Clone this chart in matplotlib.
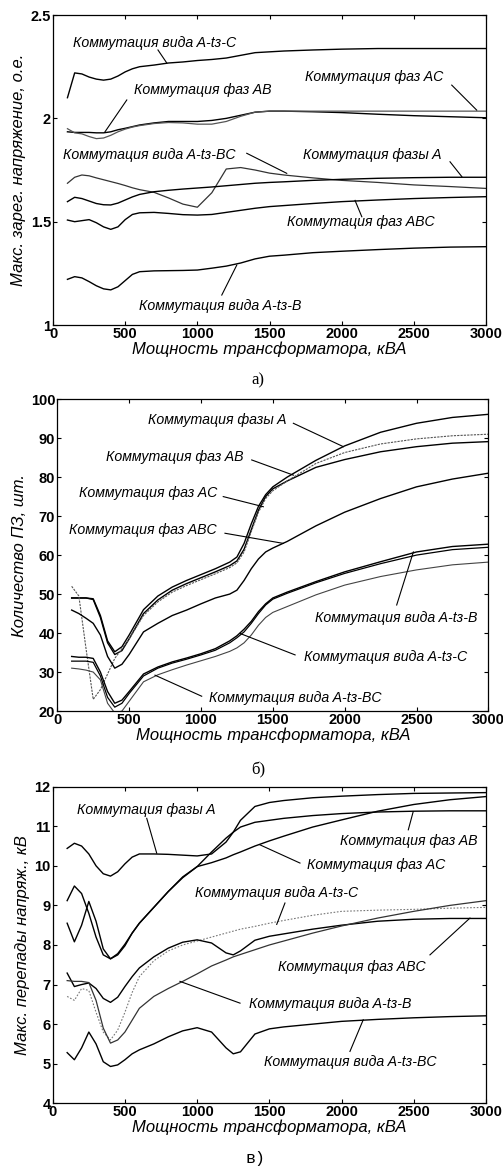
import numpy as np
import matplotlib
matplotlib.use('Agg')
import matplotlib.pyplot as plt

plt.rcParams['font.family'] = ['Liberation Sans', 'DejaVu Sans']

# ---- panel a: max overvoltage, p.u.
xa = [100, 150, 200, 250, 300, 350, 400, 450, 500, 550, 600, 700, 800, 900, 1000,
      1100, 1200, 1300, 1400, 1500, 1600, 1800, 2000, 2250, 2500, 2750, 3000]
a_t3_c = [2.10, 2.22, 2.215, 2.20, 2.19, 2.185, 2.19, 2.205, 2.225, 2.24, 2.25, 2.258, 2.268, 2.273, 2.28,
          2.285, 2.292, 2.305, 2.318, 2.322, 2.326, 2.331, 2.335, 2.338, 2.338, 2.338, 2.338]
a_ab = [1.935, 1.932, 1.932, 1.932, 1.93, 1.93, 1.935, 1.945, 1.952, 1.96, 1.968, 1.978, 1.985, 1.985, 1.985,
        1.99, 2.0, 2.015, 2.03, 2.035, 2.035, 2.032, 2.028, 2.02, 2.013, 2.008, 2.003]
a_ac = [1.95, 1.93, 1.925, 1.912, 1.902, 1.905, 1.918, 1.935, 1.948, 1.958, 1.965, 1.975, 1.98, 1.978, 1.972,
        1.972, 1.985, 2.01, 2.03, 2.035, 2.035, 2.035, 2.035, 2.035, 2.035, 2.035, 2.035]
a_t3_bc = [1.686, 1.715, 1.726, 1.722, 1.712, 1.703, 1.694, 1.685, 1.675, 1.664, 1.655, 1.642, 1.615, 1.585, 1.57,
           1.64, 1.755, 1.762, 1.75, 1.735, 1.726, 1.712, 1.70, 1.69, 1.678, 1.67, 1.661]
a_a = [1.597, 1.618, 1.612, 1.60, 1.588, 1.582, 1.581, 1.59, 1.605, 1.62, 1.632, 1.645, 1.652, 1.658, 1.663,
       1.668, 1.674, 1.68, 1.686, 1.69, 1.693, 1.70, 1.705, 1.71, 1.713, 1.715, 1.715]
a_abc = [1.508, 1.50, 1.505, 1.51, 1.495, 1.475, 1.463, 1.475, 1.51, 1.535, 1.543, 1.545, 1.54, 1.534, 1.532,
         1.535, 1.545, 1.555, 1.565, 1.573, 1.578, 1.588, 1.597, 1.605, 1.612, 1.617, 1.621]
a_t3_b = [1.221, 1.234, 1.228, 1.21, 1.19, 1.175, 1.170, 1.185, 1.215, 1.245, 1.258, 1.262, 1.263, 1.264, 1.266,
          1.275, 1.285, 1.30, 1.32, 1.333, 1.338, 1.35, 1.357, 1.365, 1.372, 1.377, 1.379]

# ---- panel b: number of arresters
xb = [100, 150, 200, 250, 300, 350, 400, 450, 500, 600, 700, 800, 900, 1000, 1100, 1200, 1250,
      1300, 1350, 1400, 1450, 1500, 1600, 1800, 2000, 2250, 2500, 2750, 3000]
b_a = [49, 49, 49, 48.8, 44.5, 38, 35.2, 36.5, 39.5, 46, 49.5, 51.8, 53.5, 55, 56.5, 58.2, 59.5,
       63, 68, 72.5, 75.5, 77.5, 80, 84.3, 88, 91.5, 93.8, 95.3, 96.1]
b_ab = [49, 49, 49, 48.6, 44, 37.5, 34.5, 35.5, 38.5, 45, 48.5, 51, 52.7, 54.2, 55.7, 57.3, 58.5,
        61.5, 66.5, 71.5, 75, 77, 79, 82.5, 84.5, 86.5, 87.8, 88.7, 89.1]
b_ac = [52, 49.5, 36, 23, 25.5, 29.5, 33.5, 36, 38.5, 44.5, 48, 50.5, 52.2, 53.7, 55.2, 56.8, 58,
        60.8, 66, 71, 74.5, 76.5, 79, 83.5, 86.3, 88.5, 89.8, 90.6, 91]
b_abc = [45.9, 45, 43.8, 42.5, 39.5, 34, 31, 32, 34.5, 40.3, 42.5, 44.5, 45.9, 47.5, 49, 50, 51,
         53.5, 56.5, 59, 60.8, 61.8, 63.5, 67.5, 71, 74.5, 77.5, 79.5, 81]
b_t3_c = [34, 33.8, 33.8, 33.5, 30, 25, 22, 22.8, 25, 29.5, 31.3, 32.6, 33.6, 34.7, 36, 38, 39.3,
          41, 43, 45.5, 47.5, 49, 50.5, 53.2, 55.7, 58.3, 60.8, 62.2, 62.8]
b_t3_b = [32.8, 32.8, 32.8, 32.5, 29, 23.5, 21, 22, 24.5, 29, 31, 32.3, 33.3, 34.4, 35.6, 37.5, 38.8,
          40.3, 42.5, 45, 47.2, 48.7, 50.2, 52.9, 55.3, 57.8, 60, 61.4, 62]
b_t3_bc = [31, 30.8, 30.5, 30, 28, 22, 19.5, 20, 22.5, 27.5, 29.3, 30.6, 31.8, 32.9, 34, 35.3, 36.2,
           37.5, 39.5, 42, 44, 45.3, 46.8, 49.8, 52.3, 54.5, 56.2, 57.5, 58.2]

# ---- panel c: max voltage jumps, kV
xc = [100, 150, 200, 250, 300, 350, 400, 450, 500, 550, 600, 700, 800, 900, 1000, 1100, 1200, 1250,
      1300, 1400, 1500, 1600, 1800, 2000, 2250, 2500, 2750, 3000]
c_a = [10.44, 10.57, 10.5, 10.3, 10.0, 9.8, 9.74, 9.85, 10.05, 10.22, 10.3, 10.3, 10.29, 10.27, 10.25, 10.3, 10.6, 10.85,
       11.15, 11.5, 11.6, 11.65, 11.72, 11.76, 11.8, 11.83, 11.84, 11.85]
c_ab = [9.12, 9.49, 9.3, 8.8, 8.2, 7.75, 7.65, 7.75, 7.98, 8.3, 8.55, 8.95, 9.35, 9.7, 9.98, 10.35, 10.7, 10.85,
        10.98, 11.1, 11.15, 11.2, 11.27, 11.32, 11.36, 11.38, 11.39, 11.39]
c_ac = [8.55, 8.08, 8.5, 9.1, 8.6, 7.9, 7.65, 7.78, 8.02, 8.3, 8.55, 8.95, 9.35, 9.72, 9.98, 10.08, 10.2, 10.28,
        10.35, 10.5, 10.63, 10.75, 10.98, 11.16, 11.38, 11.55, 11.67, 11.75]
c_t3_c = [6.7, 6.6, 6.9, 6.85, 6.3, 5.8, 5.6, 5.85, 6.3, 6.8, 7.2, 7.6, 7.85, 8.0, 8.1, 8.2, 8.3, 8.35,
          8.4, 8.47, 8.55, 8.62, 8.75, 8.85, 8.88, 8.9, 8.93, 8.95]
c_abc = [7.29, 6.95, 7.0, 7.04, 6.9, 6.65, 6.55, 6.68, 6.95, 7.2, 7.42, 7.7, 7.92, 8.07, 8.13, 8.05, 7.8, 7.75,
         7.85, 8.12, 8.22, 8.28, 8.4, 8.5, 8.6, 8.65, 8.67, 8.67]
c_t3_b = [7.1, 7.08, 7.08, 7.05, 6.6, 5.9, 5.52, 5.6, 5.8, 6.1, 6.4, 6.7, 6.9, 7.08, 7.27, 7.47, 7.62, 7.7,
          7.76, 7.88, 8.0, 8.1, 8.3, 8.48, 8.68, 8.85, 9.0, 9.12]
c_t3_bc = [5.28, 5.1, 5.4, 5.8, 5.5, 5.05, 4.93, 4.97, 5.1, 5.25, 5.35, 5.5, 5.68, 5.83, 5.91, 5.8, 5.4, 5.25,
           5.3, 5.75, 5.88, 5.93, 6.0, 6.07, 6.12, 6.16, 6.19, 6.21]

xlabel = 'Мощность трансформатора, кВА'

fig = plt.figure(figsize=(5.03, 11.67), dpi=100)


def style_axes(ax, ylim, yticks, yticklabels, ylabel):
    ax.set_xlim(0, 3000)
    ax.set_ylim(*ylim)
    ax.set_xticks(range(0, 3001, 500))
    ax.set_yticks(yticks)
    ax.set_yticklabels(yticklabels)
    ax.tick_params(direction='in', top=True, right=True, length=3, width=0.8,
                   labelsize=10.5, pad=1.5)
    for lab in ax.get_xticklabels() + ax.get_yticklabels():
        lab.set_fontweight('bold')
    for s in ax.spines.values():
        s.set_linewidth(0.9)
    ax.set_xlabel(xlabel, fontsize=12, style='italic', labelpad=0)
    ax.set_ylabel(ylabel, fontsize=12, style='italic', labelpad=3)


def put_labels(ax, labels):
    for txt, tx, ty, x0, y0, x1, y1 in labels:
        ax.text(tx, ty, txt, fontsize=10.2, style='italic', ha='center', va='center')
        ax.plot([x0, x1], [y0, y1], color='black', lw=0.8)


# panel a
ax1 = fig.add_axes([0.1054, 0.7215, 0.861, 0.2656])
ax1.plot(xa, a_t3_c, color='black', lw=1.0)
ax1.plot(xa, a_ab, color='black', lw=1.0)
ax1.plot(xa, a_ac, color='#555555', lw=0.9)
ax1.plot(xa, a_t3_bc, color='#333333', lw=0.9)
ax1.plot(xa, a_a, color='black', lw=1.0)
ax1.plot(xa, a_abc, color='black', lw=1.0)
ax1.plot(xa, a_t3_b, color='black', lw=1.0)
style_axes(ax1, (1, 2.5), [1, 1.5, 2, 2.5], ['1', '1.5', '2', '2.5'],
           'Макс. зарег. напряжение, о.е.')
put_labels(ax1, [
    ('Коммутация вида A-tз-C', 707, 2.365, 727, 2.331, 788, 2.268),
    ('Коммутация фаз AC', 2224, 2.20, 2762, 2.161, 2935, 2.04),
    ('Коммутация фаз AB', 1039, 2.137, 511, 2.089, 360, 1.935),
    ('Коммутация вида A-tз-BC', 669, 1.823, 1342, 1.831, 1619, 1.734),
    ('Коммутация фазы A', 2210, 1.823, 2750, 1.79, 2832, 1.718),
    ('Коммутация фаз ABC', 2134, 1.50, 2139, 1.524, 2092, 1.603),
    ('Коммутация вида A-tз-B', 1157, 1.092, 1169, 1.145, 1273, 1.29),
])

# panel b
ax2 = fig.add_axes([0.1139, 0.3907, 0.857, 0.2673])
ax2.plot(xb, b_a, color='black', lw=1.0)
ax2.plot(xb, b_ab, color='black', lw=1.0)
ax2.plot(xb, b_ac, color='#555555', lw=0.8, ls=(0, (2, 1)))
ax2.plot(xb, b_abc, color='black', lw=1.0)
ax2.plot(xb, b_t3_c, color='black', lw=1.0)
ax2.plot(xb, b_t3_b, color='black', lw=0.9)
ax2.plot(xb, b_t3_bc, color='#444444', lw=0.8)
style_axes(ax2, (20, 100), range(20, 101, 10), [str(v) for v in range(20, 101, 10)],
           'Количество ПЗ, шт.')
put_labels(ax2, [
    ('Коммутация фазы A', 1115, 94.6, 1643, 93.8, 1991, 87.8),
    ('Коммутация фаз AB', 819, 85.2, 1353, 84.4, 1643, 80.5),
    ('Коммутация фаз AC', 631, 75.8, 1155, 75.0, 1434, 72.4),
    ('Коммутация фаз ABC', 597, 66.4, 1167, 65.6, 1573, 63.0),
    ('Коммутация вида A-tз-B', 2361, 43.8, 2362, 47.2, 2478, 60.8),
    ('Коммутация вида A-tз-C', 2288, 33.8, 1655, 34.4, 1272, 39.9),
    ('Коммутация вида A-tз-BC', 1658, 23.3, 1005, 23.8, 680, 29.2),
])

# panel c
ax3 = fig.add_axes([0.1048, 0.0546, 0.8614, 0.2713])
ax3.plot(xc, c_a, color='black', lw=1.0)
ax3.plot(xc, c_ab, color='black', lw=1.0)
ax3.plot(xc, c_ac, color='black', lw=1.0)
ax3.plot(xc, c_t3_c, color='#777777', lw=0.8, ls=(0, (1.5, 1.5)))
ax3.plot(xc, c_abc, color='black', lw=1.0)
ax3.plot(xc, c_t3_b, color='#333333', lw=0.9)
ax3.plot(xc, c_t3_bc, color='black', lw=1.0)
style_axes(ax3, (4, 12), range(4, 13), [str(v) for v in range(4, 13)],
           'Макс. перепады напряж., кВ')
put_labels(ax3, [
    ('Коммутация фазы A', 646, 11.41, 651, 11.2, 720, 10.32),
    ('Коммутация фаз AB', 2467, 10.63, 2462, 10.91, 2496, 11.37),
    ('Коммутация фаз AC', 2242, 10.02, 1712, 10.07, 1435, 10.53),
    ('Коммутация вида A-tз-C', 1549, 9.32, 1608, 9.06, 1551, 8.52),
    ('Коммутация фаз ABC', 2072, 7.45, 2612, 7.75, 2889, 8.68),
    ('Коммутация вида A-tз-B', 1920, 6.51, 1297, 6.53, 881, 7.08),
    ('Коммутация вида A-tз-BC', 2058, 5.05, 2058, 5.31, 2150, 6.11),
])

fig.text(258 / 503, 1 - 380 / 1167, 'а)', fontsize=12, family='Liberation Serif',
         ha='center', va='center')
fig.text(258 / 503, 1 - 770 / 1167, 'б)', fontsize=12, family='Liberation Serif',
         ha='center', va='center')
fig.text(255 / 503, 1 - 1158 / 1167, 'в)', fontsize=12, family='Liberation Mono',
         ha='center', va='center')

fig.savefig('out.png', dpi=100)
